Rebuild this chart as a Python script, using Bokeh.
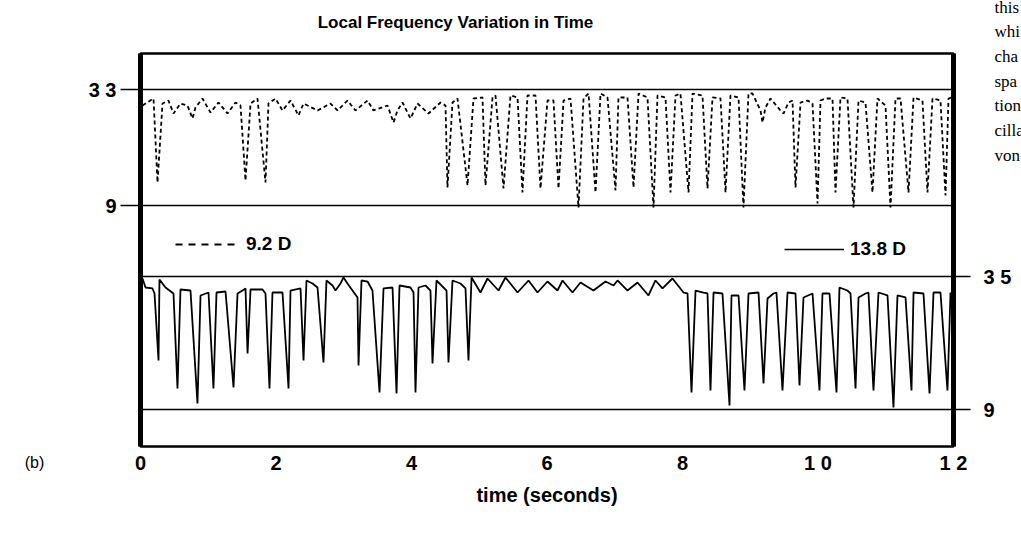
from bokeh.plotting import figure
from bokeh.models import (Range1d, LinearAxis, FixedTicker, Grid, Label, Legend,
                          LegendItem)
from bokeh.embed import file_html
from bokeh.resources import INLINE

# ---------------- data ----------------
x_ticks = [0, 2, 4, 6, 8, 10, 12]
x_tick_labels = ["0", "2", "4", "6", "8", "1 0", "1 2"]
upper_ticks = [9, 33]
upper_tick_labels = ["9", "3 3"]
lower_ticks = [9, 35]
lower_tick_labels = ["9", "3 5"]

# 9.2 D trace (dashed, upper band, left scale)
t_92 = [0.030, 0.192, 0.251, 0.325, 0.413, 0.487, 0.590, 0.694, 0.768, 0.812,
        0.915, 1.033, 1.151, 1.284, 1.402, 1.476, 1.550, 1.624, 1.727, 1.845,
        1.889, 1.993, 2.096, 2.214, 2.332, 2.406, 2.613, 2.804, 2.908, 3.055,
        3.173, 3.351, 3.439, 3.646, 3.734, 3.793, 3.867, 3.985, 4.089, 4.251,
        4.428, 4.502, 4.531, 4.605, 4.679, 4.827, 4.915, 5.048, 5.092, 5.196,
        5.240, 5.358, 5.461, 5.565, 5.638, 5.712, 5.830, 5.904, 6.007, 6.096,
        6.170, 6.244, 6.347, 6.465, 6.539, 6.613, 6.716, 6.790, 6.893, 7.011,
        7.055, 7.188, 7.277, 7.351, 7.483, 7.572, 7.631, 7.749, 7.823, 7.897,
        7.970, 8.089, 8.148, 8.295, 8.369, 8.443, 8.561, 8.635, 8.708, 8.827,
        8.900, 8.974, 9.033, 9.151, 9.181, 9.225, 9.299, 9.446, 9.491, 9.565,
        9.624, 9.668, 9.742, 9.845, 9.919, 9.993, 10.037, 10.111, 10.214, 10.258,
        10.332, 10.435, 10.524, 10.598, 10.701, 10.804, 10.878, 10.996, 11.070, 11.144,
        11.218, 11.336, 11.410, 11.542, 11.616, 11.690, 11.808, 11.882, 11.926, 11.970]
f_92 = [29.69, 31.14, 13.76, 30.10, 30.72, 28.03, 30.10, 29.69, 27.00, 29.28,
        31.14, 28.24, 30.31, 28.03, 30.31, 29.69, 14.17, 30.10, 31.14, 13.76,
        30.10, 31.14, 28.66, 30.72, 27.62, 30.10, 28.66, 30.10, 28.66, 30.72,
        28.66, 30.72, 28.66, 29.69, 26.17, 28.66, 30.31, 27.00, 30.10, 28.03,
        30.31, 29.69, 12.72, 30.31, 31.14, 13.14, 31.14, 31.35, 13.14, 31.35,
        31.76, 12.52, 31.76, 31.35, 11.69, 31.76, 31.76, 12.52, 30.72, 30.72,
        12.52, 30.72, 31.14, 8.59, 31.14, 32.17, 11.69, 32.17, 31.35, 12.10,
        31.35, 31.35, 12.72, 32.17, 31.35, 8.59, 31.76, 31.35, 11.69, 31.76,
        32.17, 11.69, 32.17, 31.76, 12.52, 31.35, 31.14, 11.69, 31.76, 31.35,
        8.59, 32.17, 32.17, 28.66, 26.17, 29.28, 31.14, 28.66, 28.03, 30.31,
        30.72, 12.72, 30.31, 30.72, 30.10, 9.41, 30.72, 31.14, 31.14, 11.69,
        31.35, 31.14, 8.59, 30.72, 30.31, 11.69, 31.14, 29.69, 8.59, 31.14,
        31.14, 11.69, 31.35, 30.72, 11.69, 31.14, 30.72, 11.07, 31.14, 31.35]

# 13.8 D trace (solid, lower band, right scale)
t_138 = [0.030, 0.074, 0.177, 0.207, 0.266, 0.280, 0.369, 0.487, 0.546, 0.590,
         0.738, 0.841, 0.886, 1.004, 1.077, 1.122, 1.255, 1.373, 1.432, 1.506,
         1.550, 1.580, 1.624, 1.801, 1.845, 1.904, 1.948, 2.096, 2.185, 2.214,
         2.362, 2.406, 2.450, 2.539, 2.613, 2.701, 2.745, 2.834, 2.878, 2.952,
         2.996, 3.055, 3.129, 3.203, 3.218, 3.262, 3.351, 3.424, 3.528, 3.587,
         3.720, 3.779, 3.823, 3.985, 4.030, 4.059, 4.103, 4.207, 4.280, 4.310,
         4.369, 4.472, 4.517, 4.546, 4.605, 4.723, 4.797, 4.841, 4.886, 5.018,
         5.122, 5.284, 5.387, 5.565, 5.727, 5.860, 6.007, 6.155, 6.229, 6.376,
         6.494, 6.686, 6.863, 6.982, 7.041, 7.188, 7.336, 7.498, 7.601, 7.705,
         7.852, 8.015, 8.074, 8.133, 8.192, 8.310, 8.369, 8.413, 8.458, 8.590,
         8.694, 8.723, 8.827, 8.915, 8.974, 9.122, 9.196, 9.255, 9.343, 9.387,
         9.476, 9.550, 9.668, 9.727, 9.786, 9.919, 10.022, 10.066, 10.170, 10.273,
         10.317, 10.435, 10.480, 10.554, 10.598, 10.701, 10.745, 10.819, 10.893, 11.026,
         11.114, 11.173, 11.292, 11.380, 11.410, 11.557, 11.646, 11.705, 11.808, 11.911,
         11.956]
f_138 = [34.61, 32.85, 32.66, 31.68, 18.58, 34.42, 32.85, 31.68, 13.11, 32.46,
         32.26, 10.17, 31.29, 31.87, 13.11, 31.87, 32.07, 13.30, 31.68, 32.26,
         32.66, 19.95, 32.46, 32.46, 31.68, 13.11, 31.87, 31.87, 13.11, 32.26,
         32.66, 18.58, 34.22, 33.63, 32.85, 18.19, 34.22, 33.24, 32.26, 33.63,
         34.81, 33.63, 32.26, 30.90, 17.60, 34.22, 34.02, 32.26, 12.32, 32.66,
         32.85, 12.13, 33.24, 32.85, 31.87, 12.32, 32.85, 33.24, 32.26, 17.99,
         34.22, 32.85, 32.26, 18.19, 34.22, 33.63, 32.66, 18.58, 34.81, 31.87,
         34.61, 32.26, 34.81, 31.87, 34.22, 31.87, 34.02, 32.26, 34.22, 31.87,
         33.83, 32.26, 34.02, 33.24, 34.22, 32.26, 33.83, 31.29, 34.22, 32.66,
         34.61, 31.87, 31.68, 12.32, 32.26, 31.87, 31.68, 12.71, 31.87, 31.68,
         9.78, 31.29, 31.29, 12.71, 31.68, 31.87, 14.08, 30.70, 31.68, 31.87,
         12.71, 31.87, 31.68, 13.69, 30.90, 31.68, 12.71, 31.68, 31.68, 12.32,
         32.85, 32.26, 31.68, 13.11, 30.90, 31.68, 31.87, 12.71, 31.87, 31.29,
         9.39, 31.29, 30.90, 12.71, 31.87, 31.68, 12.13, 31.87, 31.87, 12.71,
         31.87]

# ---------------- layout (pixels) ----------------
W, H = 1021, 535
FL, FR, FT, FB = 140, 953, 53, 446          # frame edges
UP_PX = {9: 205, 33: 89}                    # upper band reference lines
LO_PX = {9: 409, 35: 276}                   # lower band reference lines
FONT = "Liberation Sans"
FS = "20px"


def band_range(v_lo, y_lo, v_hi, y_hi):
    k = (y_lo - y_hi) / (v_hi - v_lo)
    return v_lo - (FB - y_lo) / k, v_hi + (y_hi - FT) / k


u0, u1 = band_range(9, UP_PX[9], 33, UP_PX[33])
l0, l1 = band_range(9, LO_PX[9], 35, LO_PX[35])


def at(px, py):
    """pixel position -> data coords on x / upper range"""
    x = (px - FL) / (FR - FL) * 12.0
    y = u1 - (py - FT) / (FB - FT) * (u1 - u0)
    return x, y


p = figure(width=W, height=H, x_range=Range1d(0, 12), y_range=Range1d(u0, u1),
           output_backend="svg", toolbar_location=None, title=None,
           min_border_left=FL, min_border_right=W - FR,
           min_border_top=FT, min_border_bottom=H - FB)
p.extra_y_ranges = {"lower": Range1d(l0, l1)}
p.background_fill_color = "white"
p.border_fill_color = "white"
p.outline_line_color = "black"
p.outline_line_width = 2.5

# x axis
xa = p.xaxis[0]
xa.ticker = FixedTicker(ticks=x_ticks)
xa.major_label_overrides = dict(zip(x_ticks, x_tick_labels))
xa.major_tick_out = 0
xa.major_tick_in = 0
xa.minor_tick_out = 0
xa.minor_tick_in = 0
xa.axis_line_color = None
xa.major_label_standoff = 5
xa.major_label_text_font = FONT
xa.major_label_text_font_style = "bold"
xa.major_label_text_font_size = FS
xa.major_label_text_color = "black"
xa.axis_label = "time (seconds)"
xa.axis_label_standoff = 7
xa.axis_label_text_font = FONT
xa.axis_label_text_font_style = "bold"
xa.axis_label_text_font_size = FS
xa.axis_label_text_color = "black"

# left axis (upper band)
ya = p.yaxis[0]
ya.ticker = FixedTicker(ticks=upper_ticks)
ya.major_label_overrides = dict(zip(upper_ticks, upper_tick_labels))
ya.major_tick_out = 20
ya.major_tick_in = 0
ya.minor_tick_out = 0
ya.minor_tick_in = 0
ya.major_tick_line_width = 1.6
ya.axis_line_width = 5
ya.major_label_standoff = 4
ya.major_label_text_font = FONT
ya.major_label_text_font_style = "bold"
ya.major_label_text_font_size = FS
ya.major_label_text_color = "black"

# right axis (lower band)
ra = LinearAxis(y_range_name="lower", ticker=FixedTicker(ticks=lower_ticks))
ra.major_label_overrides = dict(zip(lower_ticks, lower_tick_labels))
ra.major_tick_out = 17
ra.major_tick_in = 0
ra.minor_tick_out = 0
ra.minor_tick_in = 0
ra.major_tick_line_width = 1.6
ra.axis_line_width = 5
ra.major_label_standoff = 13
ra.major_label_text_font = FONT
ra.major_label_text_font_style = "bold"
ra.major_label_text_font_size = FS
ra.major_label_text_color = "black"
p.add_layout(ra, "right")

# reference lines
p.xgrid.visible = False
p.ygrid.ticker = FixedTicker(ticks=upper_ticks)
p.ygrid.grid_line_color = "black"
p.ygrid.grid_line_width = 1.6
g2 = Grid(dimension=1, ticker=FixedTicker(ticks=lower_ticks), y_range_name="lower",
          grid_line_color="black", grid_line_width=1.6)
p.add_layout(g2)

# traces
r92 = p.line(t_92, f_92, line_color="black", line_width=1.8, line_dash="4 3")
r138 = p.line(t_138, f_138, y_range_name="lower", line_color="black", line_width=1.8)

# legend proxies (single point: draws nothing in the plot, only the key)
r_l1 = p.line(t_92[:1], f_92[:1], line_color="black", line_width=2, line_dash="7 6")
r_l2 = p.line(t_138[:1], f_138[:1], y_range_name="lower", line_color="black", line_width=1.6)
for label, rend, loc, gw in [("9.2 D", r_l1, (175 - FL, FB - 244 - 12), 65),
                             ("13.8 D", r_l2, (784 - FL, FB - 249 - 12), 60)]:
    lg = Legend(items=[LegendItem(label=label, renderers=[rend])], location=loc,
                padding=0, margin=0, border_line_color=None,
                background_fill_alpha=0, glyph_width=gw, glyph_height=24,
                label_standoff=6, label_text_font=FONT,
                label_text_font_style="bold", label_text_font_size="19px",
                label_text_color="black")
    p.add_layout(lg)

# title
tx, ty = at(455, 22)
p.add_layout(Label(x=tx, y=ty, text="Local Frequency Variation in Time",
                   text_align="center", text_baseline="middle",
                   text_font=FONT, text_font_style="bold",
                   text_font_size="17px", text_color="black"), "above")

# panel tag and the cut-off neighbouring text column
bx, by = at(34, 462)
p.add_layout(Label(x=bx, y=by, text="(b)", text_align="center",
                   text_baseline="middle", text_font=FONT,
                   text_font_size="16px", text_color="black"), "left")
sx, sy = at(994, -3)
p.add_layout(Label(x=sx, y=sy, text="this\nwhi\ncha\nspa\ntion\ncilla\nvon",
                   text_align="left", text_baseline="top",
                   text_font="Liberation Serif", text_line_height=1.3,
                   text_font_size="17px", text_color="black"), "left")

open("out.html", "w").write(file_html(p, INLINE))
